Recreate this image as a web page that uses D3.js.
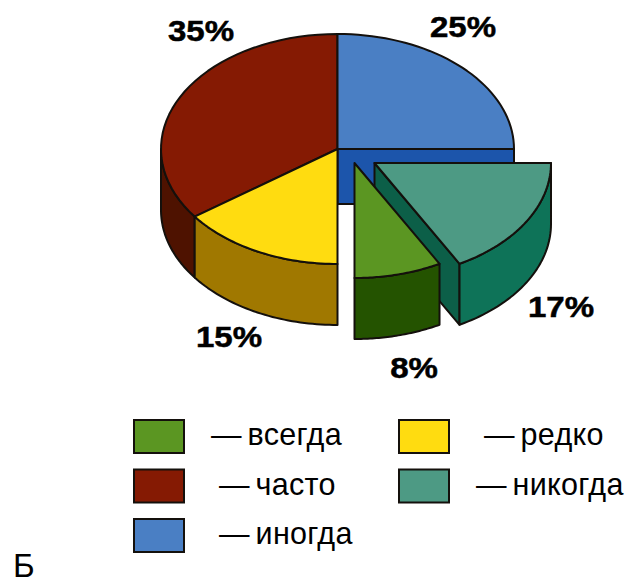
<!DOCTYPE html>
<html><head><meta charset="utf-8">
<script src="https://cdn.jsdelivr.net/npm/d3@7/dist/d3.min.js"></script>
<style>html,body{margin:0;padding:0;background:#fff}svg{display:block}text{font-family:"Liberation Sans",Arial,sans-serif;fill:#000}</style>
</head><body><svg id="c" width="629" height="583"></svg>
<script>
// Data
const categories = ["иногда","никогда","всегда","редко","часто"];
const values = [25,17,8,15,35];
const topColors = ["#4a7fc4","#4d9a84","#5b9622","#ffdc10","#851a03"];
const wallColors = ["#1c55ab","#0e7358","#245300","#a07800","#4e1200"];
const cutColors = ["#1c55ab","#0c5f48","#245300","#a07800","#4e1200"];
const explodeX = [0,37,17,0,0];
const explodeY = [0,14,14,0,0];
const pctLabels = ["25%","17%","8%","15%","35%"];
const pctX = [463,561,414,229,201];
const pctY = [37,317,378,347,41];
const legendOrder = [
  ["всегда",0,0],["часто",0,1],["иногда",0,2],["редко",1,0],["никогда",1,1]
];
const legendTextX = [[211,219,219],[484,476]];

const cx=337.5, cy=149, rx=176.5, ry=115, depth=61, blueDepth=55;
const stroke="#14100c", sw=2;
const svg=d3.select("#c");
const arcs=d3.pie().sort(null)(values);
const sx=d3.scaleLinear().domain([-1,1]).range([cx-rx,cx+rx]);
const sy=d3.scaleLinear().domain([-1,1]).range([cy-ry,cy+ry]);
const px=(a,i)=>sx(Math.sin(a))+explodeX[i];
const py=(a,i)=>sy(-Math.cos(a))+explodeY[i];
const line=d3.line();
const samples=(a0,a1)=>d3.range(0,41).map(k=>a0+(a1-a0)*k/40);

function topPath(i){
  const d=arcs[i];
  const pts=[[sx(0)+explodeX[i],sy(0)+explodeY[i]],...samples(d.startAngle,d.endAngle).map(a=>[px(a,i),py(a,i)])];
  return line(pts)+"Z";
}
function outerWall(i){
  const d=arcs[i];
  const a0=Math.max(d.startAngle,Math.PI/2), a1=Math.min(d.endAngle,Math.PI*1.5);
  if(a1<=a0) return null;
  const s=samples(a0,a1);
  return line([...s.map(a=>[px(a,i),py(a,i)]),...s.slice().reverse().map(a=>[px(a,i),py(a,i)+depth])])+"Z";
}
function cutWall(i,a,h){
  const x0=sx(0)+explodeX[i], y0=sy(0)+explodeY[i];
  return line([[x0,y0],[px(a,i),py(a,i)],[px(a,i),py(a,i)+h],[x0,y0+h]])+"Z";
}
const draw=(p,f)=>{ if(p) svg.append("path").attr("d",p).attr("fill",f).attr("stroke",stroke).attr("stroke-width",sw).attr("stroke-linejoin","round"); };

// Back-to-front painting
draw(cutWall(0,arcs[0].endAngle,blueDepth),cutColors[0]);
draw(outerWall(4),wallColors[4]);
draw(outerWall(3),wallColors[3]);
draw(topPath(4),topColors[4]);
draw(topPath(3),topColors[3]);
draw(topPath(0),topColors[0]);
draw(cutWall(1,arcs[1].endAngle,depth),cutColors[1]);
draw(outerWall(1),wallColors[1]);
draw(topPath(1),topColors[1]);
draw(outerWall(2),wallColors[2]);
draw(topPath(2),topColors[2]);

// Percent labels
pctLabels.forEach((t,i)=>svg.append("text")
  .attr("transform",`translate(${pctX[i]},${pctY[i]}) scale(1.12,1)`)
  .attr("text-anchor","middle").attr("stroke","#000").attr("stroke-width",0.5)
  .attr("font-size",29.5).attr("font-weight","bold").text(t));

// Legend
const colorOf=n=>topColors[categories.indexOf(n)];
const lx=d3.scalePoint().domain([0,1]).range([134,399]);
const ly=d3.scalePoint().domain([0,1,2]).range([420,519]);
legendOrder.forEach(([n,c,r])=>{
  svg.append("rect").attr("x",lx(c)).attr("y",ly(r)).attr("width",50).attr("height",33)
    .attr("fill",colorOf(n)).attr("stroke",stroke).attr("stroke-width",2);
  svg.append("text").attr("x",legendTextX[c][r]).attr("y",ly(r)+25).attr("font-size",30.5)
    .attr("word-spacing",-3).attr("letter-spacing",0.3).text("— "+n);
});
svg.append("text").attr("x",13).attr("y",577).attr("font-size",33).text("Б");
</script></body></html>
